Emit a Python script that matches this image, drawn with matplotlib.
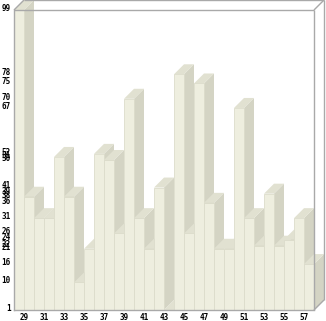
import matplotlib

matplotlib.use("Agg")
import matplotlib.pyplot as plt
from matplotlib.transforms import ScaledTranslation


CATEGORIES = [29, 30, 31, 32, 33, 34, 35, 36, 37, 38,
              39, 40, 41, 42, 43, 44, 45, 46, 47, 48,
              49, 50, 51, 52, 53, 54, 55, 56, 57, 58]
VALUES = [99, 38, 31, 31, 51, 38, 10, 21, 52, 50,
          26, 70, 31, 21, 41, 1, 78, 26, 75, 36,
          21, 21, 67, 31, 22, 39, 22, 24, 31, 16]

FRONT = "#eeeedf"
SIDE = "#d4d4c4"
TOP = "#e1e1d1"
EDGE = "#dcdccb"
FRAME = "#a9a9a9"

W, H, DPI = 326, 321, 100
PLOT_PX = (14, 10, 300, 300)  # left, top, width, height of front plane
DEPTH_PX = 10
Y_MIN, Y_MAX = 1, 99


def main():
    fig = plt.figure(figsize=(W / DPI, H / DPI), dpi=DPI)
    left, top, width, height = PLOT_PX
    ax = fig.add_axes([left / W, (H - top - height) / H, width / W, height / H])
    ax.set_xlim(0, len(VALUES))
    ax.set_ylim(Y_MIN, Y_MAX)

    # depth offset in data units
    dx = DEPTH_PX / (width / len(VALUES))
    dy = DEPTH_PX * (Y_MAX - Y_MIN) / height

    for i, v in enumerate(VALUES):
        x0, x1 = i, i + 1
        ax.fill([x1, x1 + dx, x1 + dx, x1], [Y_MIN, Y_MIN + dy, v + dy, v],
                color=SIDE, lw=0, clip_on=False)
        ax.fill([x0, x1, x1 + dx, x0 + dx], [v, v, v + dy, v + dy],
                color=TOP, lw=0, clip_on=False)
        ax.bar(x0, v - Y_MIN, bottom=Y_MIN, width=1, align="edge",
               color=FRONT, edgecolor=EDGE, linewidth=0.6, clip_on=False)

    # box: front and back planes
    n = len(VALUES)
    frame = dict(color=FRAME, lw=1.0, clip_on=False, solid_capstyle="butt")
    ax.plot([0, n], [Y_MAX, Y_MAX], **frame)
    ax.plot([n, n], [Y_MIN, Y_MAX], **frame)
    ax.plot([dx, n + dx], [Y_MAX + dy, Y_MAX + dy], **frame)
    ax.plot([n + dx, n + dx], [Y_MIN + dy, Y_MAX + dy], **frame)
    ax.plot([0, dx], [Y_MAX, Y_MAX + dy], **frame)
    ax.plot([n, n + dx], [Y_MAX, Y_MAX + dy], **frame)
    ax.plot([n, n + dx], [Y_MIN, Y_MIN + dy], **frame)

    for side in ["top", "right"]:
        ax.spines[side].set_visible(False)
    for side in ["left", "bottom"]:
        ax.spines[side].set_color(FRAME)
        ax.spines[side].set_linewidth(1.0)

    yticks = sorted(set(VALUES))
    ax.set_yticks(yticks)
    ax.set_yticklabels([str(t) for t in yticks])
    ax.set_xticks([i + 1 for i in range(0, n, 2)])
    ax.set_xticklabels([str(CATEGORIES[i]) for i in range(0, n, 2)])
    ax.tick_params(axis="both", length=0, labelsize=5.5, colors="black")
    ax.tick_params(axis="y", pad=2.2)
    ax.tick_params(axis="x", pad=2.0)
    for lbl in ax.get_yticklabels() + ax.get_xticklabels():
        lbl.set_fontfamily("DejaVu Sans Mono")
        lbl.set_fontweight("bold")
    shift = ScaledTranslation(0, 2.7 / DPI, fig.dpi_scale_trans)
    for lbl in ax.get_yticklabels():
        lbl.set_transform(lbl.get_transform() + shift)

    ax.set_facecolor("white")
    fig.savefig("out.png", dpi=DPI, facecolor="white")
    plt.close(fig)


if __name__ == "__main__":
    main()
